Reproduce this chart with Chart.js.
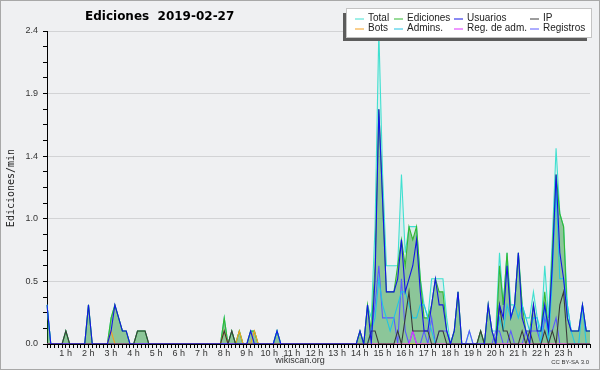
<!DOCTYPE html>
<html>
<head>
<meta charset="utf-8">
<script src="https://cdn.jsdelivr.net/npm/chart.js@4/dist/chart.umd.min.js"></script>
<style>
  html, body { margin: 0; padding: 0; background: #eff0f2; }
  canvas { display: block; }
</style>
</head>
<body>
<canvas id="chart" width="600" height="370"></canvas>
<script>
var hourLabels = ['1 h', '2 h', '3 h', '4 h', '5 h', '6 h', '7 h', '8 h', '9 h', '10 h', '11 h', '12 h',
  '13 h', '14 h', '15 h', '16 h', '17 h', '18 h', '19 h', '20 h', '21 h', '22 h', '23 h']
var yTickLabels = ['0.0', '0.5', '1.0', '1.4', '1.9', '2.4']

// edits per minute, one value every 10 minutes (00:00 .. 24:00)
var total = [
  0.3, 0, 0, 0, 0, 0.1, 0, 0, 0, 0, 0, 0.3,
  0, 0, 0, 0, 0, 0.2, 0.3, 0.2, 0.1, 0.1, 0, 0,
  0.1, 0.1, 0.1, 0, 0, 0, 0, 0, 0, 0, 0, 0,
  0, 0, 0, 0, 0, 0, 0, 0, 0, 0, 0, 0.2,
  0, 0.1, 0, 0.1, 0, 0, 0.1, 0.1, 0, 0, 0, 0,
  0, 0.1, 0, 0, 0, 0, 0, 0, 0, 0, 0, 0,
  0, 0, 0, 0, 0, 0, 0, 0, 0, 0, 0, 0.1,
  0, 0.3, 0.2, 0.9, 2.4, 1.3, 0.6, 0.6, 0.6, 0.6, 1.3, 0.7,
  0.9, 0.9, 0.9, 0.5, 0.3, 0.2, 0.5, 0.5, 0.5, 0.5, 0.2, 0,
  0.1, 0.4, 0, 0, 0.1, 0, 0, 0.1, 0, 0.3, 0.1, 0.1,
  0.7, 0.3, 0.7, 0.3, 0.3, 0.7, 0.3, 0.2, 0.2, 0.4, 0.2, 0.1,
  0.6, 0.2, 0.8, 1.5, 1.0, 0.9, 0.3, 0.1, 0.1, 0.1, 0.3, 0.1,
  0.1
]
var edits = [
  0.3, 0, 0, 0, 0, 0.1, 0, 0, 0, 0, 0, 0.3,
  0, 0, 0, 0, 0, 0.2, 0.3, 0.2, 0.1, 0.1, 0, 0,
  0.1, 0.1, 0.1, 0, 0, 0, 0, 0, 0, 0, 0, 0,
  0, 0, 0, 0, 0, 0, 0, 0, 0, 0, 0, 0.2,
  0, 0.1, 0, 0.1, 0, 0, 0.1, 0.1, 0, 0, 0, 0,
  0, 0.1, 0, 0, 0, 0, 0, 0, 0, 0, 0, 0,
  0, 0, 0, 0, 0, 0, 0, 0, 0, 0, 0, 0.1,
  0, 0.3, 0.1, 0.6, 1.8, 1.1, 0.4, 0.4, 0.4, 0.6, 0.8, 0.6,
  0.9, 0.8, 0.9, 0.5, 0.2, 0.2, 0.3, 0.5, 0.4, 0.4, 0.1, 0,
  0.1, 0.4, 0, 0, 0, 0, 0, 0.1, 0, 0.3, 0.1, 0,
  0.6, 0.3, 0.7, 0.2, 0.3, 0.7, 0.3, 0.1, 0.1, 0.3, 0.1, 0.1,
  0.4, 0.1, 0.7, 1.3, 1.0, 0.9, 0.2, 0.1, 0.1, 0.1, 0.3, 0.1,
  0.1
]
var users = [
  0.3, 0, 0, 0, 0, 0, 0, 0, 0, 0, 0, 0.3,
  0, 0, 0, 0, 0, 0.1, 0.3, 0.2, 0.1, 0.1, 0, 0,
  0, 0, 0, 0, 0, 0, 0, 0, 0, 0, 0, 0,
  0, 0, 0, 0, 0, 0, 0, 0, 0, 0, 0, 0,
  0, 0, 0, 0, 0, 0, 0.1, 0, 0, 0, 0, 0,
  0, 0.1, 0, 0, 0, 0, 0, 0, 0, 0, 0, 0,
  0, 0, 0, 0, 0, 0, 0, 0, 0, 0, 0, 0.1,
  0, 0.3, 0, 0.5, 1.8, 1.1, 0.4, 0.4, 0.4, 0.5, 0.8, 0.4,
  0.5, 0.6, 0.8, 0.4, 0.1, 0.1, 0.3, 0.5, 0.3, 0.3, 0.1, 0,
  0.1, 0.4, 0, 0, 0, 0, 0, 0, 0, 0.3, 0.1, 0,
  0.3, 0.2, 0.6, 0.2, 0.3, 0.7, 0.2, 0.1, 0, 0.3, 0.1, 0.1,
  0.3, 0.1, 0.6, 1.3, 0.7, 0.5, 0.2, 0.1, 0.1, 0.1, 0.3, 0.1,
  0.1
]
var ip = [
  0, 0, 0, 0, 0, 0.1, 0, 0, 0, 0, 0, 0,
  0, 0, 0, 0, 0, 0, 0, 0, 0, 0, 0, 0,
  0.1, 0.1, 0.1, 0, 0, 0, 0, 0, 0, 0, 0, 0,
  0, 0, 0, 0, 0, 0, 0, 0, 0, 0, 0, 0.1,
  0, 0.1, 0, 0, 0, 0, 0, 0, 0, 0, 0, 0,
  0, 0, 0, 0, 0, 0, 0, 0, 0, 0, 0, 0,
  0, 0, 0, 0, 0, 0, 0, 0, 0, 0, 0, 0,
  0, 0, 0.1, 0.1, 0, 0, 0, 0, 0, 0.1, 0, 0.2,
  0.4, 0.1, 0.1, 0.1, 0.1, 0.1, 0, 0, 0.1, 0.1, 0, 0,
  0, 0, 0, 0, 0, 0, 0, 0.1, 0, 0, 0, 0,
  0.3, 0.1, 0.1, 0, 0, 0, 0.1, 0, 0.1, 0, 0, 0,
  0.1, 0, 0.1, 0, 0.3, 0.4, 0, 0, 0, 0, 0, 0,
  0
]
var bots = [
  0, 0, 0, 0, 0, 0, 0, 0, 0, 0, 0, 0,
  0, 0, 0, 0, 0, 0.1, 0, 0, 0, 0, 0, 0,
  0, 0, 0, 0, 0, 0, 0, 0, 0, 0, 0, 0,
  0, 0, 0, 0, 0, 0, 0, 0, 0, 0, 0, 0.1,
  0, 0, 0, 0.1, 0, 0, 0, 0.1, 0, 0, 0, 0,
  0, 0, 0, 0, 0, 0, 0, 0, 0, 0, 0, 0,
  0, 0, 0, 0, 0, 0, 0, 0, 0, 0, 0, 0,
  0, 0, 0, 0, 0, 0, 0, 0, 0, 0, 0, 0,
  0, 0, 0, 0, 0, 0, 0, 0, 0, 0, 0, 0,
  0, 0, 0, 0, 0, 0, 0, 0, 0, 0, 0, 0,
  0, 0, 0, 0, 0, 0, 0, 0, 0, 0, 0, 0,
  0, 0, 0, 0, 0, 0, 0, 0, 0, 0, 0, 0,
  0
]
var admins = [
  0.3, 0, 0, 0, 0, 0, 0, 0, 0, 0, 0, 0,
  0, 0, 0, 0, 0, 0, 0, 0, 0, 0, 0, 0,
  0, 0, 0, 0, 0, 0, 0, 0, 0, 0, 0, 0,
  0, 0, 0, 0, 0, 0, 0, 0, 0, 0, 0, 0,
  0, 0, 0, 0, 0, 0, 0, 0, 0, 0, 0, 0,
  0, 0.1, 0, 0, 0, 0, 0, 0, 0, 0, 0, 0,
  0, 0, 0, 0, 0, 0, 0, 0, 0, 0, 0, 0,
  0, 0, 0.1, 0.2, 0.5, 0.3, 0.2, 0.1, 0.2, 0.3, 0.4, 0.4,
  0.3, 0.2, 0.2, 0.3, 0.3, 0.2, 0.1, 0, 0, 0, 0, 0,
  0, 0, 0, 0, 0, 0, 0, 0, 0, 0, 0, 0,
  0.2, 0.1, 0.3, 0.2, 0.3, 0.2, 0.3, 0.2, 0.1, 0.2, 0.2, 0,
  0.3, 0, 0.5, 1.2, 0.5, 0.5, 0.3, 0.1, 0, 0, 0.3, 0,
  0
]
var adminLogs = [
  0, 0, 0, 0, 0, 0, 0, 0, 0, 0, 0, 0,
  0, 0, 0, 0, 0, 0, 0, 0, 0, 0, 0, 0,
  0, 0, 0, 0, 0, 0, 0, 0, 0, 0, 0, 0,
  0, 0, 0, 0, 0, 0, 0, 0, 0, 0, 0, 0,
  0, 0, 0, 0, 0, 0, 0, 0, 0, 0, 0, 0,
  0, 0, 0, 0, 0, 0, 0, 0, 0, 0, 0, 0,
  0, 0, 0, 0, 0, 0, 0, 0, 0, 0, 0, 0,
  0, 0, 0, 0, 0, 0, 0, 0, 0, 0, 0, 0,
  0, 0.1, 0, 0, 0, 0, 0, 0, 0, 0, 0, 0,
  0, 0, 0, 0, 0, 0, 0, 0, 0, 0, 0, 0,
  0, 0, 0, 0, 0, 0, 0, 0, 0, 0, 0, 0,
  0, 0, 0, 0, 0, 0, 0, 0, 0, 0, 0, 0,
  0
]
var logs = [
  0, 0, 0, 0, 0, 0, 0, 0, 0, 0, 0, 0,
  0, 0, 0, 0, 0, 0, 0, 0, 0, 0, 0, 0,
  0, 0, 0, 0, 0, 0, 0, 0, 0, 0, 0, 0,
  0, 0, 0, 0, 0, 0, 0, 0, 0, 0, 0, 0,
  0, 0, 0, 0, 0, 0, 0, 0, 0, 0, 0, 0,
  0, 0, 0, 0, 0, 0, 0, 0, 0, 0, 0, 0,
  0, 0, 0, 0, 0, 0, 0, 0, 0, 0, 0, 0,
  0, 0, 0.1, 0.3, 0.6, 0.2, 0.2, 0.2, 0.2, 0, 0.5, 0.1,
  0, 0.1, 0, 0, 0.1, 0, 0.2, 0, 0.1, 0.1, 0.1, 0,
  0, 0, 0, 0, 0.1, 0, 0, 0, 0, 0, 0, 0.1,
  0.1, 0, 0, 0.1, 0, 0, 0, 0.1, 0.1, 0.1, 0.1, 0,
  0.2, 0.1, 0.1, 0.2, 0, 0, 0, 0, 0, 0, 0, 0,
  0
]

var slots = []
for (var i = 0; i <= 144; i++) {
  slots.push(i % 6 === 0 && hourLabels[i / 6 - 1] ? hourLabels[i / 6 - 1] : '')
}

function series (label, data, color, order, fill) {
  return {
    label: label,
    data: data,
    borderColor: color,
    backgroundColor: fill || color,
    fill: fill ? 'origin' : false,
    borderWidth: 1.1,
    pointRadius: 0,
    tension: 0,
    order: order
  }
}

var decorations = {
  id: 'decorations',
  afterDraw: function (chart) {
    var ctx = chart.ctx
    ctx.save()
    ctx.strokeStyle = '#a8a8a8'
    ctx.lineWidth = 1
    ctx.strokeRect(0.5, 0.5, 599, 369)

    ctx.fillStyle = '#000'
    ctx.font = 'bold 12px "DejaVu Sans"'
    ctx.textBaseline = 'middle'
    ctx.textAlign = 'left'
    ctx.fillText('Ediciones  2019-02-27', 85, 17)

    ctx.fillStyle = '#222'
    ctx.font = '10px "DejaVu Sans Mono"'
    ctx.translate(11, 188)
    ctx.rotate(-Math.PI / 2)
    ctx.textAlign = 'center'
    ctx.fillText('Ediciones/min', 0, 0)
    ctx.setTransform(1, 0, 0, 1, 0, 0)

    ctx.fillStyle = '#333'
    ctx.font = '9px "Liberation Sans"'
    ctx.fillText('wikiscan.org', 300, 361)
    ctx.font = '6px "Liberation Sans"'
    ctx.textAlign = 'right'
    ctx.fillText('CC BY-SA 3.0', 589, 362)

    // legend box
    ctx.fillStyle = '#5c5c5c'
    ctx.fillRect(343, 13, 244, 28)
    ctx.fillStyle = '#fff'
    ctx.fillRect(347, 9, 244, 28)
    ctx.strokeStyle = '#c4c4c4'
    ctx.strokeRect(346.5, 8.5, 245, 29)

    var cols = [355, 394, 454, 530]
    var rows = [18.5, 28.5]
    ctx.font = '10px "Liberation Sans"'
    ctx.textAlign = 'left'
    chart.data.datasets.forEach(function (ds, k) {
      var x = cols[k % 4]
      var y = rows[Math.floor(k / 4)]
      ctx.strokeStyle = ds.borderColor
      ctx.lineWidth = 1
      ctx.beginPath()
      ctx.moveTo(x, y + 0.5)
      ctx.lineTo(x + 9, y + 0.5)
      ctx.stroke()
      ctx.fillStyle = '#222'
      ctx.fillText(ds.label, x + 13, y)
    })
    ctx.restore()
  }
}

var chart = new Chart(document.getElementById('chart'), {
  type: 'line',
  data: {
    labels: slots,
    datasets: [
      series('Total', total, '#40e0d0', 8, 'rgba(64,224,208,0.12)'),
      series('Ediciones', edits, '#33b833', 7, 'rgba(0,128,0,0.36)'),
      series('Usuarios', users, '#1414e6', 1),
      series('IP', ip, '#3a3a3a', 2),
      series('Bots', bots, '#f5a020', 4),
      series('Admins.', admins, '#22c4e4', 5),
      series('Reg. de adm.', adminLogs, '#dd33ff', 3),
      series('Registros', logs, '#5a5aff', 6)
    ]
  },
  options: {
    responsive: false,
    devicePixelRatio: 1,
    animation: false,
    layout: { padding: { left: 0, right: 10, top: 31, bottom: 0 } },
    plugins: { legend: { display: false }, tooltip: { enabled: false } },
    scales: {
      x: {
        afterFit: function (s) { s.height = 26 },
        border: { color: '#000', width: 1 },
        grid: { drawOnChartArea: false, tickColor: '#000', tickLength: 4 },
        ticks: {
          autoSkip: false, maxRotation: 0, minRotation: 0, padding: 0, labelOffset: -4,
          color: '#333', font: { family: 'Liberation Sans', size: 9 }
        }
      },
      y: {
        min: 0,
        max: 2.4,
        afterFit: function (s) { s.width = 47 },
        border: { color: '#000', width: 1 },
        grid: {
          color: function (c) {
            if (!c.tick) return 'rgba(0,0,0,0)'
            return Math.round(c.tick.value / 0.12) % 4 === 0 ? '#d2d3d5' : 'rgba(0,0,0,0)'
          },
          tickColor: '#000',
          tickLength: 4
        },
        ticks: {
          stepSize: 0.12, maxTicksLimit: 30, padding: 5,
          color: '#333', font: { family: 'Liberation Sans', size: 9 },
          callback: function (v) {
            var k = Math.round(v / 0.12)
            return k % 4 === 0 ? yTickLabels[k / 4] : ''
          }
        }
      }
    }
  },
  plugins: [decorations]
})
</script>
</body>
</html>
